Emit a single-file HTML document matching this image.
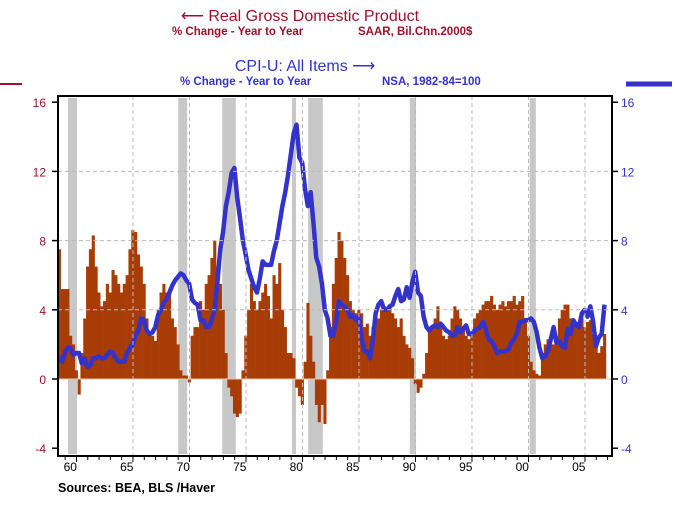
<!DOCTYPE html>
<html><head><meta charset="utf-8"><style>
body{margin:0;background:#fff;width:678px;height:503px;overflow:hidden;font-family:"Liberation Sans",Arial,sans-serif}
</style></head><body>
<svg id="c" width="678" height="503" xmlns="http://www.w3.org/2000/svg">
<defs><clipPath id="clip"><rect x="58" y="96" width="554" height="360"/></clipPath></defs>
<text x="300" y="21" text-anchor="middle" font-size="16" fill="#a0102a">⟵ Real Gross Domestic Product</text>
<text x="172" y="35" font-size="11.5" font-weight="bold" fill="#a0102a">% Change - Year to Year</text>
<text x="358" y="35" font-size="11.5" font-weight="bold" fill="#a0102a">SAAR, Bil.Chn.2000$</text>
<text x="305" y="71" text-anchor="middle" font-size="16" fill="#3333cc">CPI-U: All Items ⟶</text>
<text x="180" y="85" font-size="11.5" font-weight="bold" fill="#3333cc">% Change - Year to Year</text>
<text x="382" y="85" font-size="11.5" font-weight="bold" fill="#3333cc">NSA, 1982-84=100</text>
<line x1="0" y1="84" x2="22" y2="84" stroke="#a0102a" stroke-width="2"/>
<line x1="626" y1="84" x2="672" y2="84" stroke="#3333cc" stroke-width="5"/>
<g id="plot"></g>
<text x="58" y="492" font-size="12.5" font-weight="bold" fill="#000">Sources:  BEA, BLS /Haver</text>
</svg>
<script>
const gdp=[7.0,7.5,5.2,5.2, 5.2,2.5,2.0,0.5, -0.9,1.5,3.5,6.5, 7.5,8.3,6.5,5.0, 4.2,4.5,5.5,5.0, 6.3,6.0,5.5,5.0, 5.5,6.0,7.5,8.6, 8.5,7.2,6.5,5.5, 3.5,2.5,2.5,2.2, 4.0,5.0,5.5,5.0, 5.0,3.5,3.0,2.0, 0.5,0.2,0.2,-0.2, 2.5,3.0,3.0,4.5, 4.0,5.5,6.0,7.0, 8.0,6.5,5.5,4.0, 1.5,-0.5,-1.0,-2.0, -2.2,-2.0,0.5,2.5, 4.0,5.5,4.5,4.0, 4.5,5.0,5.5,4.8, 3.5,6.0,5.5,6.7, 4.0,3.0,1.5,1.5, 1.2,-0.5,-1.0,-1.5, 1.0,4.4,2.5,1.0, -1.5,-2.5,-1.5,-2.6, 0.5,3.0,5.5,7.0, 8.5,8.0,7.0,6.0, 4.5,4.0,3.8,4.0, 3.8,3.0,3.2,2.5, 3.0,3.3,3.5,4.0, 4.2,4.0,4.2,3.8, 3.5,3.0,3.5,2.5, 2.0,1.8,1.2,-0.3, -0.8,-0.5,0.3,1.5, 3.0,3.0,3.5,4.2, 3.0,2.5,2.3,2.5, 3.5,4.2,4.0,3.5, 3.0,2.5,2.3,2.5, 3.5,3.8,4.0,4.3, 4.5,4.5,4.8,4.3, 4.0,4.3,4.5,4.2, 4.5,4.5,4.8,4.3, 4.5,4.8,3.5,2.5, 1.0,0.5,0.3,0.2, 1.5,2.0,2.3,2.0, 2.0,2.5,3.5,4.0, 4.3,4.3,3.5,3.3, 3.3,3.0,3.5,3.0, 3.3,3.4,2.6,2.4, 1.5,1.9,2.6];
const cpi=[1.5,1.2,1.0,1.5, 1.8,1.8,1.4,1.5, 1.5,0.9,1.2,0.7, 0.8,1.2,1.2,1.3, 1.2,1.2,1.4,1.6, 1.5,1.2,1.0,1.0, 1.0,1.5,1.8,2.0, 2.5,2.8,3.5,3.4, 2.8,2.6,2.7,3.0, 3.7,4.0,4.4,4.6, 5.0,5.4,5.7,5.9, 6.1,6.0,5.7,5.5, 4.6,4.4,4.3,3.4, 3.4,3.0,3.0,3.4, 4.0,5.6,7.5,8.5, 10.0,10.8,11.9,12.2, 10.5,9.3,8.0,7.2, 6.3,5.8,5.3,5.0, 5.8,6.8,6.6,6.6, 6.6,7.4,8.0,9.0, 10.0,10.8,11.8,13.0, 14.2,14.7,12.8,12.5, 11.0,10.0,10.8,9.0, 7.0,6.5,5.5,4.0, 3.5,2.5,2.5,3.3, 4.5,4.3,4.2,4.0, 3.6,3.7,3.4,3.6, 2.4,1.6,1.6,1.2, 2.2,3.8,4.3,4.5, 4.0,4.0,4.2,4.3, 4.8,5.2,4.5,4.6, 5.3,4.7,5.6,6.2, 5.0,4.8,3.6,3.0, 2.8,3.0,3.1,3.0, 3.2,3.0,2.8,2.7, 2.5,2.5,3.0,2.7, 2.9,3.1,2.6,2.6, 2.8,2.9,3.0,3.3, 2.9,2.3,2.2,1.9, 1.5,1.6,1.6,1.6, 1.7,2.1,2.3,2.6, 3.3,3.3,3.4,3.4, 3.5,3.3,2.7,1.8, 1.2,1.3,1.6,2.3, 3.0,2.1,2.2,1.9, 1.8,2.9,2.6,3.4, 3.1,3.0,3.8,4.0, 3.6,4.2,3.3,1.9, 2.4,2.6,4.3];
const recessions=[[1960.15,1960.95],[1969.9,1970.7],[1973.8,1975.0],[1979.97,1980.33],[1981.4,1982.7],[1990.4,1990.95],[2001.0,2001.55]];
const yTicks=[-4,0,4,8,12,16];
const xTickYears=[1960,1965,1970,1975,1980,1985,1990,1995,2000,2005];
const xTickLabels=["60","65","70","75","80","85","90","95","00","05"];
const startYear=1959;
const L=58,R=612,T=96,B=456;
const xs=t=>55+(t-1959)*11.3;
const ys=v=>379-v*17.3;
const NS="http://www.w3.org/2000/svg";
const g=document.getElementById('plot');
function mk(tag,attrs,parent){const e=document.createElementNS(NS,tag);for(const k in attrs)e.setAttribute(k,attrs[k]);(parent||g).appendChild(e);return e;}
const cg=mk('g',{'clip-path':'url(#clip)'});
recessions.forEach(r=>{
 const e=mk('rect',{x:xs(r[0]),y:T+2,width:xs(r[1])-xs(r[0]),height:B-T-4,fill:'#c8c8c8'},cg);
 
 
});
yTicks.forEach(v=>{
 if(v!==0&&v!==16&&v!==-4){const e=mk('line',{x1:L,x2:R,y1:ys(v),y2:ys(v),stroke:'#bbb','stroke-dasharray':'4,3'});
 
 }
 const a=mk('text',{x:46,y:ys(v)+5,'text-anchor':'end','font-size':12,fill:'#a0102a'});a.textContent=v;
 
 
 const b=mk('text',{x:621,y:ys(v)+5,'font-size':12,fill:'#3333cc'});b.textContent=v;
 
 
 mk('line',{x1:L-6,x2:L,y1:ys(v),y2:ys(v),stroke:'#000','stroke-width':1.5});
 mk('line',{x1:R,x2:R+6,y1:ys(v),y2:ys(v),stroke:'#000','stroke-width':1.5});
});
xTickYears.forEach((y,i)=>{
 if(i>0){const e=mk('line',{x1:xs(y+0.9),x2:xs(y+0.9),y1:T,y2:B,stroke:'#bbb','stroke-dasharray':'4,3'});
 
 }
 const t=mk('text',{x:xs(y+0.35),y:471,'text-anchor':'middle','font-size':12,fill:'#000'});t.textContent=xTickLabels[i];
 
 
});
for(let y=1959;y<=2007;y++){const px=xs(y+0.9);if(px>L&&px<R)mk('line',{x1:px,x2:px,y1:B,y2:B+(y%5===0?6:4),stroke:'#000'});}
gdp.forEach((v,i)=>{
 const t=startYear+i/4, x=xs(t), w=11.3/4+0.3;
 const e=mk('rect',{x:x,y:Math.min(ys(v),ys(0)),width:w,height:Math.abs(ys(v)-ys(0)),fill:'#a83c06'},cg);
 
 
});
mk('line',{x1:L,x2:R,y1:ys(0),y2:ys(0),stroke:'#e8c8a0','stroke-width':1});
const pts=cpi.map((v,i)=>xs(startYear+i/4+0.125)+','+ys(v)).join(' ');
const pl=mk('polyline',{points:pts,fill:'none',stroke:'#3333cc','stroke-width':4.5,'stroke-linejoin':'round'},cg);


const fr=mk('rect',{x:L,y:T,width:R-L,height:B-T,fill:'none',stroke:'#000','stroke-width':2});


</script>
</body></html>
